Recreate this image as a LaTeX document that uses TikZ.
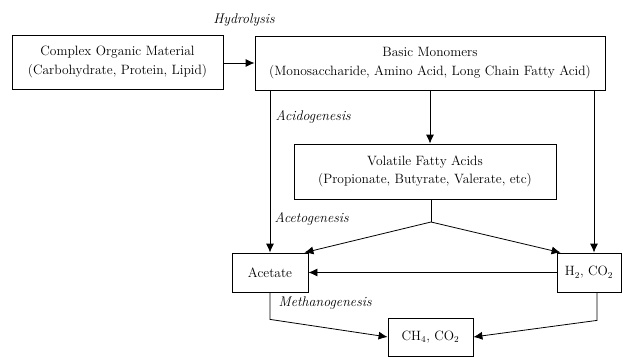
\documentclass[tikz,border=0pt]{standalone}
\usetikzlibrary{arrows.meta,positioning}
\begin{document}
\begin{tikzpicture}[x=1pt,y=-1pt,font=\fontsize{13.5}{18.5}\selectfont,
  box/.style={draw,line width=0.8pt,inner sep=0pt,align=center},
  arr/.style={-{Latex[length=9pt,width=8pt]},line width=0.8pt},
  stage/.style={font=\fontsize{14}{17}\selectfont\itshape,anchor=west}]
\useasboundingbox (0,0) rectangle (623,356);
% process boxes
\node[box,minimum width=211,minimum height=54] (com) at (117.5,62) {Complex Organic Material\\(Carbohydrate, Protein, Lipid)};
\node[box,minimum width=350,minimum height=54] (mono) at (430,63) {Basic Monomers\\(Monosaccharide, Amino Acid, Long Chain Fatty Acid)};
\node[box,minimum width=262,minimum height=55] (vfa) at (425,171.5) {Volatile Fatty Acids\\(Propionate, Butyrate, Valerate, etc)};
\node[box,minimum width=76,minimum height=39] (ace) at (270,272.5) {Acetate};
\node[box,minimum width=64,minimum height=39] (h2) at (589,272.5) {H$_2$, CO$_2$};
\node[box,minimum width=85,minimum height=38] (ch4) at (430.5,337) {CH$_4$, CO$_2$};
% stage labels
\node[stage,anchor=center] (hyd) at (244,20) {Hydrolysis};
\node[stage] (acid) at (272,117) {Acidogenesis};
\node[stage] (acet) at (271,219) {Acetogenesis};
\node[stage] (meth) at (275,303) {Methanogenesis};
% connectors
\coordinate (split) at (431,222);
\draw[arr] (com.east |- mono) -- (mono.west);
\draw[arr] (mono.south -| ace) -- (ace.north);
\draw[arr] (mono.south) -- (mono.south |- vfa.north);
\draw[arr] ([xshift=5]mono.south -| h2) -- ([xshift=5]h2.north);
\draw[line width=0.8pt] (vfa.south -| split) -- (split);
\draw[arr] (split) -- ([xshift=-4]ace.north east);
\draw[arr] (split) -- ([xshift=4]h2.north west);
\draw[arr] (h2.west) -- (ace.east);
\draw[arr] (ace.south) -- ++(0,27) -- (ch4.west);
\draw[arr] ([xshift=8]h2.south) -- ++(0,28) -- (ch4.east);
\end{tikzpicture}
\end{document}
